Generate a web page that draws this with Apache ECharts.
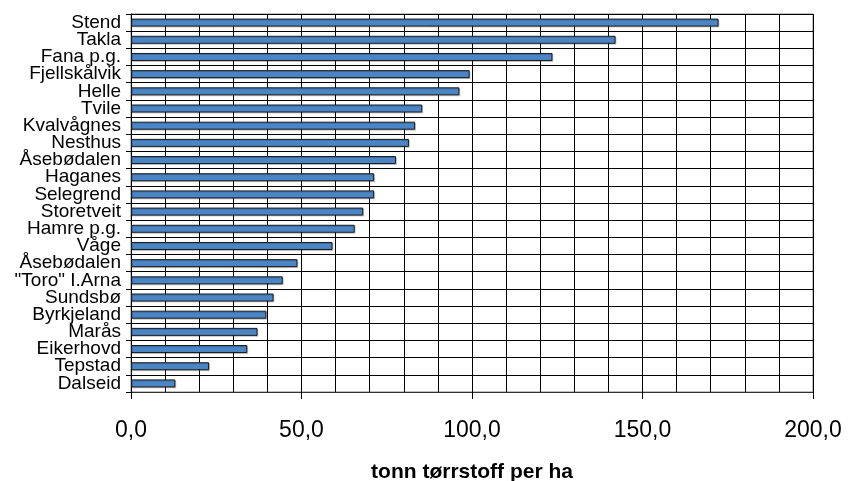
<!DOCTYPE html>
<html>
<head>
<meta charset="utf-8">
<script src="https://cdn.jsdelivr.net/npm/echarts@6/dist/echarts.min.js"></script>
<style>
  html, body { margin: 0; padding: 0; background: #fff; }
  #chart { width: 848px; height: 481px; }
</style>
</head>
<body>
<div id="chart"></div>
<script>
// Dry-matter yield per site, sorted from highest to lowest
const sites = [
  'Stend', 'Takla', 'Fana p.g.', 'Fjellskålvik', 'Helle', 'Tvile',
  'Kvalvågnes', 'Nesthus', 'Åsebødalen', 'Haganes', 'Selegrend',
  'Storetveit', 'Hamre p.g.', 'Våge', 'Åsebødalen', '"Toro" I.Arna',
  'Sundsbø', 'Byrkjeland', 'Marås', 'Eikerhovd', 'Tepstad', 'Dalseid'
];
const yieldValues = [
  172.3, 142.1, 123.6, 99.3, 96.3, 85.4,
  83.3, 81.5, 77.7, 71.3, 71.3,
  68.1, 65.6, 59.1, 48.8, 44.5,
  41.8, 39.7, 37.1, 34.1, 22.9, 13.0
];
const xTicks = [0, 50, 100, 150, 200];
const xTitle = 'tonn tørrstoff per ha';

const chart = echarts.init(document.getElementById('chart'), null, { renderer: 'canvas' });
const font = '"Liberation Sans", Arial, sans-serif';

chart.setOption({
  animation: false,
  backgroundColor: '#ffffff',
  grid: {
    left: 131, right: 35, top: 14, bottom: 89,
    containLabel: false,
    outerBoundsMode: 'none',
    show: true, borderColor: '#808080', borderWidth: 1
  },
  xAxis: {
    type: 'value',
    min: xTicks[0],
    max: xTicks[xTicks.length - 1],
    interval: xTicks[1] - xTicks[0],
    name: xTitle,
    nameLocation: 'middle',
    nameGap: 70,
    nameTextStyle: { fontFamily: font, fontSize: 21, fontWeight: 'bold', color: '#000' },
    axisLine: { show: true, lineStyle: { color: '#333', width: 1 } },
    axisTick: { show: true, length: 7, lineStyle: { color: '#000' } },
    axisLabel: {
      margin: 27,
      fontFamily: font, fontSize: 23, color: '#000',
      formatter: v => v.toFixed(1).replace('.', ',')
    },
    splitLine: { show: true, lineStyle: { color: '#000', width: 1 } },
    minorTick: { show: false, splitNumber: 5 },
    minorSplitLine: { show: true, lineStyle: { color: '#000', width: 1 } }
  },
  yAxis: {
    type: 'category',
    inverse: true,
    data: sites,
    axisLine: { show: true, lineStyle: { color: '#000', width: 1 } },
    axisTick: { show: true, length: 5, lineStyle: { color: '#000' } },
    axisLabel: {
      margin: 10,
      fontFamily: font, fontSize: 19, color: '#000',
      interval: 0
    },
    splitLine: { show: true, lineStyle: { color: '#000', width: 1 } }
  },
  series: [{
    type: 'bar',
    data: yieldValues,
    barWidth: 8,
    itemStyle: {
      color: '#4a86c6',
      borderColor: '#1a1a1a',
      borderWidth: 1,
      shadowColor: 'rgba(0,0,0,0.18)',
      shadowOffsetX: 1,
      shadowOffsetY: 1,
      shadowBlur: 0
    }
  }]
});
</script>
</body>
</html>
